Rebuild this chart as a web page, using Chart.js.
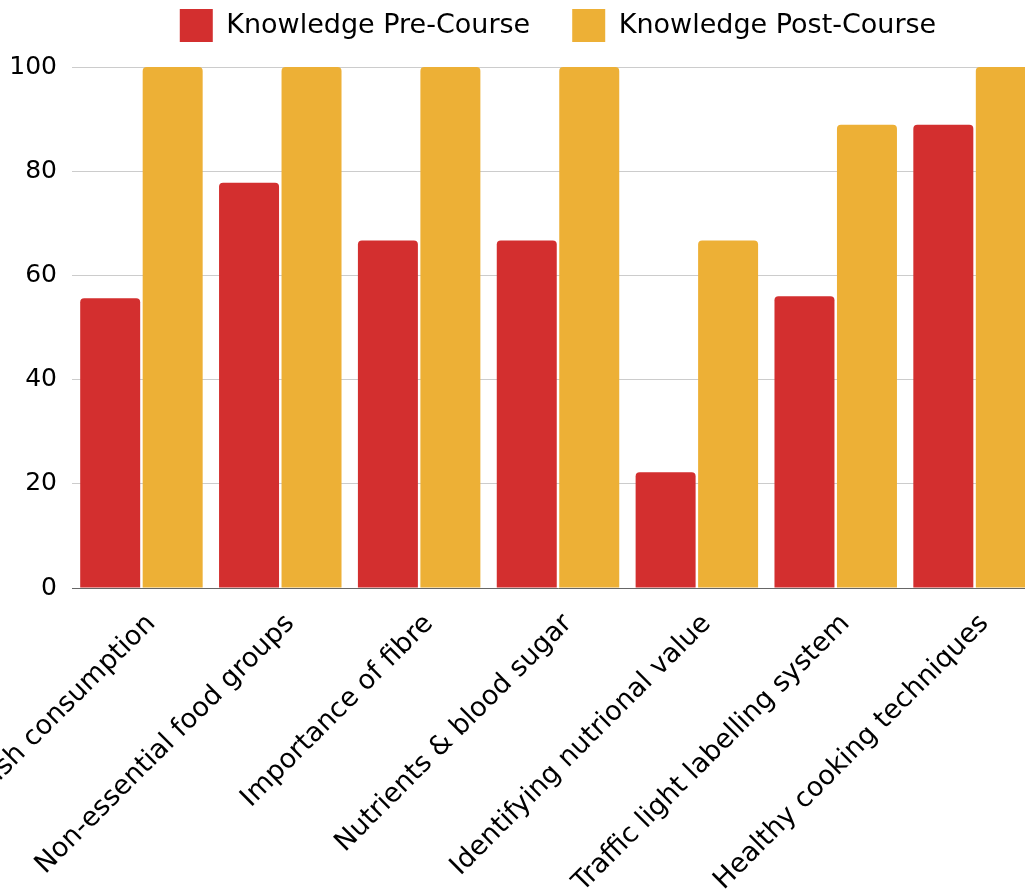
<!DOCTYPE html>
<html lang="en">
<head>
  <meta charset="UTF-8">
  <title>Knowledge Pre/Post Course</title>
  <script src="https://cdn.jsdelivr.net/npm/chart.js"></script>
  <style>
    html, body { margin: 0; padding: 0; background: #fff; overflow: hidden; }
    .wrap { position: absolute; left: 0; top: 0; width: 1044px; height: 892px; }
  </style>
</head>
<body>
  <div class="wrap"><canvas id="chart"></canvas></div>

  <script>
    // data
    const categories = [
      'Fish consumption',
      'Non-essential food groups',
      'Importance of fibre',
      'Nutrients & blood sugar',
      'Identifying nutrional value',
      'Traffic light labelling system',
      'Healthy cooking techniques'
    ];
    const preCourse = [55.6, 77.8, 66.7, 66.7, 22.2, 56, 88.9];
    const postCourse = [100, 100, 100, 100, 66.7, 88.9, 100];
    const yTicks = [0, 20, 40, 60, 80, 100];

    const font = 'DejaVu Sans';

    // legend gets wide gaps between items but should not eat vertical room
    const legendHeight = {
      id: 'legendHeight',
      beforeInit(chart) {
        if (!chart.legend) return;
        const fit = chart.legend.fit;
        chart.legend.fit = function () { fit.call(this); this.height = 100; };
      }
    };

    new Chart(document.getElementById('chart'), {
      type: 'bar',
      data: {
        labels: categories,
        datasets: [
          { label: 'Knowledge Pre-Course', data: preCourse, backgroundColor: '#d32f2f' },
          { label: 'Knowledge Post-Course', data: postCourse, backgroundColor: '#edb036' }
        ]
      },
      plugins: [legendHeight],
      options: {
        responsive: true,
        maintainAspectRatio: false,
        animation: false,
        layout: { padding: { top: -44, left: 0, right: 0, bottom: 0 } },
        datasets: {
          bar: { categoryPercentage: 0.9, barPercentage: 0.96, borderRadius: 4, borderSkipped: 'start' }
        },
        plugins: {
          legend: {
            fullSize: false,
            labels: {
              boxWidth: 33, boxHeight: 33, padding: 42, color: '#000',
              font: { family: font, size: 27 }
            }
          },
          tooltip: { enabled: false }
        },
        scales: {
          x: {
            grid: { display: false, drawTicks: false },
            border: { display: true, color: '#666', width: 1 },
            ticks: {
              minRotation: 45, maxRotation: 45, padding: 20, labelOffset: 10, color: '#000',
              font: { family: font, size: 27 }
            },
            afterFit(s) { s.height = 304; s.paddingLeft = 0; s.paddingRight = 0; }
          },
          y: {
            min: 0, max: 100,
            grid: { color: '#cccccc', drawTicks: false },
            border: { display: false },
            afterBuildTicks(s) { s.ticks = yTicks.map(v => ({ value: v })); },
            ticks: { padding: 15, color: '#000', font: { family: font, size: 25 } },
            afterFit(s) { s.width = 72; s.paddingTop = 67; }
          }
        }
      }
    });
  </script>
</body>
</html>
